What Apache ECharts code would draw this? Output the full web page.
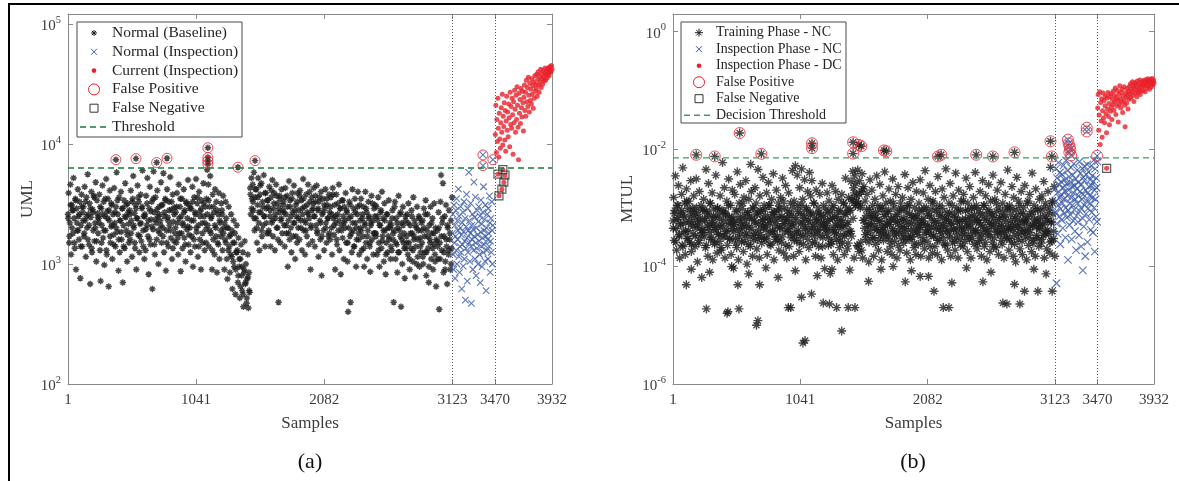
<!DOCTYPE html>
<html>
<head>
<meta charset="utf-8">
<title>UML / MTUL</title>
<script src="https://cdn.jsdelivr.net/npm/echarts@6/dist/echarts.min.js"></script>
<style>
html,body{margin:0;padding:0;background:#fff;}
#chart{width:1179px;height:481px;}
</style>
</head>
<body>
<div id="chart"></div>
<script>
// tick positions on the sample axis (both panels)
var xTicks = [1, 1041, 2082, 3123, 3470, 3932];
var phaseLines = [3123, 3470];
var thrA = 6300;     // UML threshold
var thrB = 0.0071;   // MTUL decision threshold

// sampling of the value lists below
var baseStart = 1, baseStep = 5;
var coreStart = 3, coreStep = 10;
var insStart = 3124, insStep = 3;
var curStart = 3472, curStep = 4;

// (a) UML - baseline, one value every 5 samples
var baseA = [
2600,3900,1500,2200,4600,1200,3100,2800,1800,5200,2400,1350,3500,900,2900,1900,4200,2500,1600,3300,760,2100,3800,1400,2700,
3000,1700,4400,2300,1150,3600,2000,5600,2600,1450,3200,680,2450,4000,1250,2850,1900,3700,1550,2200,4800,1050,3400,2650,1800,
2400,3800,1300,720,2900,2100,4500,1650,3300,980,2500,1900,5100,1200,2750,3500,650,2300,4100,1500,2050,3100,1100,2600,1750,
4300,2200,1400,3000,5800,1850,2600,880,3600,1250,2300,4000,1600,2900,700,2100,3400,1350,4700,2450,1900,1050,3200,2700,1500,
2800,1600,4100,2300,1150,3500,5400,2000,2650,1350,3100,900,2400,4500,1750,3300,1250,2150,3800,1550,2900,6000,1900,2500,1100,
2600,1300,3700,2100,5200,1700,820,2900,4400,1450,2350,3300,620,1950,5900,2700,1200,3600,2200,1600,4100,2500,1000,3000,1800,
2300,4800,1500,3100,2000,5700,1250,2700,3500,880,1900,4200,2450,1400,3300,2100,5300,1650,2850,1100,3800,2250,1550,2950,1800,
2700,1500,3900,2200,1200,4600,1800,3000,870,2500,3500,1350,2100,4200,1650,2800,1050,3300,1950,2400,5000,1450,3100,2000,1250,
2900,1700,4400,950,2300,3600,1400,2600,5100,1850,3200,1150,2100,4000,1600,2750,900,3400,2200,1500,4700,2500,1300,3000,1950,
3500,6100,2100,4600,1400,3000,5400,1800,2500,900,3800,1600,2700,1200,4200,2000,3300,850,1500,2600,3900,1100,2200,1700,3200,
2800,1300,3700,2000,900,1600,3300,2400,1100,750,2000,3000,1400,850,1750,2600,1150,620,1500,2300,950,1800,560,1250,2100,
1300,700,1650,950,520,1100,1450,800,600,1250,440,900,1550,680,1000,470,750,1200,430,850,580,4300,2600,5200,3500,
4600,2800,5800,1900,3600,2400,4200,1500,3100,5200,2200,1300,3800,2700,4700,1700,3300,2100,5500,2500,1400,3900,2900,1800,3400,
3000,1900,4400,2500,1400,3600,2200,5000,1700,2900,3900,1300,2400,4600,2000,3200,1600,480,2700,3700,1500,2300,4200,1800,2800,
3300,2100,1400,4300,2600,1800,3700,950,2300,4900,1600,3000,2000,1250,3500,2700,1700,4500,2200,1100,3100,2500,1500,3900,2000,
2800,1600,4100,2300,3400,1300,2600,5100,1900,3000,1200,2200,3800,1700,2700,4600,1450,2400,3300,900,2000,3600,1550,2900,4300,
2500,1400,3700,2100,4500,1800,2800,1150,3300,2300,1600,4000,800,2600,3500,1900,1300,2900,4200,2200,1500,3100,2400,1700,3800,
2700,1600,3600,2000,1200,4300,2400,1750,3100,900,2200,3800,1450,2600,1900,4600,1300,2900,820,2100,3400,1650,2500,1100,3000,
2300,3900,1500,2700,1050,400,2000,3300,1700,480,2500,1250,4200,1900,2900,1400,3500,2200,950,1600,2600,4000,1800,1200,3100,
2000,3500,1300,2400,1700,3000,950,2200,4000,1500,2700,1100,1900,3300,2500,1400,860,2100,3700,1600,2300,1200,2900,1800,3100,
1800,3000,1200,2300,3600,1500,950,2100,2700,1350,4000,1700,2400,1050,3200,1900,820,1500,2600,1250,2000,3400,1600,2200,1100,
2100,1300,2800,1600,480,1900,3300,1100,2400,1450,850,2000,3700,1250,2600,1700,440,2200,1000,3000,1500,1800,760,2500,1350,
1700,2600,1200,3200,1500,900,2100,1350,2800,1800,1050,3600,1600,2300,780,1400,2000,3000,1150,1900,2500,950,1650,1250,2200,
1500,2300,1000,2900,1700,1250,3400,800,1900,2600,1350,700,2100,1600,3000,1100,1800,2400,900,1450,3200,1200,2000,650,1550,
1900,1100,2700,420,1500,3300,5500,1300,2200,4700,850,1700,2500,1050,3100,1400,680,2000,1200,2800,1600,900,2300,1350,3600
];
// (a) baseline, dense core, one value every 10 samples from 3
var coreA = [
2400,1700,3100,2000,2800,1500,3400,2200,1900,2600,1400,3000,2300,1800,3300,2500,1600,2100,2900,1350,2700,3600,2000,1550,2450,
2200,3000,1500,2600,1900,3500,1300,2400,2800,1700,3200,2100,1450,2700,2000,3400,1600,2300,1850,2900,1400,2500,3100,1750,2150,
2600,1800,3300,2100,1500,2900,2400,3600,1700,2200,3000,1400,2500,1950,3200,2300,1600,2750,2050,3500,1450,2350,2850,1900,2600,
2100,3100,1700,2500,3400,1500,2300,2800,1900,3300,1350,2600,2000,3000,1650,2400,3500,1800,2200,2700,1450,3200,2050,1750,2900,
2300,3300,1600,2700,2000,3600,1400,2500,2900,1800,3200,2200,1500,2600,3400,1900,2400,1300,3000,2100,1700,2800,1450,2300,1900,
2600,1800,2200,1500,2000,1300,1700,1200,1900,1050,1500,900,1250,800,1100,650,950,560,850,700,520,780,600,3800,2900,
3300,2400,4200,2000,3600,2700,4500,1900,3000,2500,3900,2200,3400,1800,2800,4100,2300,3200,2600,3700,2000,2900,3500,2400,3100,
2700,3600,2100,3000,1800,3400,2500,3900,2200,2800,1700,3300,2400,3700,2000,2900,3500,2300,1900,3100,2600,4000,2100,2800,3200,
2500,3300,1900,2900,3600,2200,1700,2700,3100,2000,3500,2400,1800,3000,2600,3800,2100,2500,1600,3200,2300,2900,1900,3400,2200,
2000,2800,1500,2400,3100,1800,2200,1400,2700,2000,3000,1600,2300,1900,2600,1350,2100,2900,1700,2400,1500,2200,3200,1800,2500,
1700,2500,1300,2100,2800,1550,1900,2300,1200,2600,1700,2000,1400,2400,1800,3000,1500,2200,1250,1900,2700,1600,2100,1350,2300,
1500,2200,1100,1800,2500,1300,1700,2100,1000,1600,2400,1400,1900,1150,2000,2600,1250,1700,950,1500,2200,1350,1800,1050,1600,
1400,2000,1100,1700,2400,1250,900,1600,2100,1300,1800,1000
];
// (a) inspection phase, normal condition, every 3 samples from 3124
var insA = [
1800,2600,1200,900,3100,1500,2100,760,1700,2800,1300,3500,1000,2300,1600,1900,4200,1150,2500,850,1400,2000,3000,1250,
1750,620,2200,1450,2700,960,1850,3300,1100,1550,2400,500,1350,2050,3800,1650,720,2900,1250,1900,5800,1500,2300,1050,
1800,3200,1400,470,2100,1600,2600,900,1950,1300,4800,1700,2450,1100,3600,1500,800,2000,1350,2800,1750,1000,2250,3000,
1550,1200,2500,700,1850,3400,1400,2150,950,1650,2700,1250,4400,1900,1450,2350,1050,3100,1700,600,2000,1300,2600,1600,
1100,2900,1800,1400,3700,2200,850,1550,2400,1250,3300,1900,1000,2100
];
// (a) inspection phase, current condition, every 4 samples from 3472
var curA = [
12000,21000,8500,16000,10500,24000,13500,7800,18000,11000,9200,15000,20000,
12500,26000,9800,17000,14000,22000,10800,19000,8700,15500,25000,13000,18500,11500,21500,16500,9500,27000,14500,20500,
13500,24000,17500,8200,22500,15000,28000,19500,12500,25500,16000,30000,21000,13800,7400,26500,18000,23500,14800,29000,20000,16800,27500,22000,12800,
24500,31000,19000,27000,17000,34000,22500,29500,20500,36000,25500,18500,32000,23000,28500,21500,35000,26000,30500,19800,33000,24000,37000,27500,31500,
29000,38000,25000,34500,40000,31000,27000,36500,33000,42000,29500,38500,35000,31500,41000,36000,33500,39000,43000,34000,37500,40500,35500,42500,38000,
41500,37000,44000,39500,43500,40000,45000,42000
];
var fpBaseA = [[390,7400],[553,7550],[721,7000],[805,7600],[1137,9300],[1137,7700],[1137,7200],[1137,6800],[1381,6400],[1520,7260]];
var fpInsA = [[3371,8100],[3371,6600],[3452,7400]];
var fnA = [[3493,5600],[3501,3700],[3525,4200],[3533,6100],[3541,4800],[3550,5500]];

// (b) MTUL - training phase, one value every 5 samples
var baseB = [
6.0e-4,1.5e-3,2.8e-4,9.0e-4,3.5e-3,4.4e-4,1.9e-4,1.1e-3,6.8e-4,2.4e-3,3.3e-4,1.4e-4,8.2e-4,5.1e-4,1.7e-3,2.3e-4,4.8e-3,7.5e-4,3.9e-4,1.2e-3,1.6e-4,5.6e-4,2.1e-3,3.0e-4,9.8e-4,
4.1e-4,1.3e-3,2.6e-4,7e-4,2.9e-3,1.8e-4,5.3e-4,1e-3,3.6e-4,1.6e-3,8.5e-4,2.2e-4,6.2e-4,3.1e-3,4.6e-4,1.2e-4,7.8e-4,2.5e-4,1.9e-3,5.8e-4,3.4e-4,1.1e-3,6.5e-5,4.2e-4,9.2e-4,
1.4e-3,3.2e-4,6.6e-4,2.1e-4,4.5e-3,8.8e-4,4.9e-4,1.5e-4,2.6e-3,7.2e-4,3.8e-4,1.2e-3,2.9e-4,5.5e-4,1.8e-3,1.3e-4,9.5e-4,4.3e-4,2.4e-4,6.9e-4,3.6e-3,5.1e-4,1.7e-4,1e-3,3.5e-4,
7.6e-4,2.7e-4,1.6e-3,4.7e-4,1.9e-4,9.1e-4,5.9e-3,3.3e-4,6.1e-4,2.2e-3,1.4e-4,8e-4,4e-4,1.3e-3,2.3e-4,5.4e-4,3.1e-3,7e-4,3e-4,1.1e-3,1.6e-4,6.3e-4,2e-3,4.4e-4,9.4e-5,
5.2e-4,1.7e-3,3e-4,8.6e-4,2.1e-4,4.1e-3,6.4e-4,1.3e-4,1.2e-3,3.8e-4,2.5e-3,5.7e-4,2.6e-4,9.7e-4,4.5e-4,1.8e-4,1.5e-3,7.3e-4,3.4e-4,2.9e-3,5e-4,1.1e-4,8.3e-4,2.4e-4,1.4e-3,
6.7e-4,3.2e-4,5.5e-3,1.9e-3,4.3e-4,1.5e-4,9.9e-4,2.8e-4,6e-4,2.2e-3,3.7e-4,1.2e-3,2e-4,7.9e-4,4.5e-3,5.3e-4,1.4e-4,1.6e-3,3.5e-4,8.7e-4,2.5e-4,6.2e-4,3.3e-3,4.7e-4,1.1e-3,
2.9e-4,9.3e-4,4.2e-4,1.8e-3,1.6e-4,6.6e-4,2.7e-3,3.6e-4,1.1e-3,5.6e-4,2.3e-4,1.4e-3,7.7e-4,4e-4,3.8e-3,1.3e-4,8.4e-4,2.9e-4,5e-4,2e-3,6.8e-4,3.2e-4,1.2e-3,1.9e-4,9.6e-4,
4.6e-4,1.5e-3,2.6e-4,7.1e-4,3.2e-3,5.4e-4,1.7e-4,1e-3,3.9e-4,2.4e-3,6.3e-4,1.4e-4,8.9e-4,4.4e-4,1.8e-3,2.2e-4,5.8e-4,1.2e-3,3.1e-4,7.5e-4,4.3e-3,4.9e-4,1.5e-4,1.3e-3,3.5e-4,
5.2e-3,6.9e-4,2.8e-4,3.6e-3,1.1e-3,4.1e-4,1.8e-4,2.2e-3,8.1e-4,3.4e-4,4.6e-3,5.7e-4,1.4e-3,2.4e-4,7.4e-4,3e-3,4.7e-4,1.3e-4,1e-3,3.7e-4,1.9e-3,6.1e-4,2.1e-4,4e-3,8.6e-4,
1.6e-3,4.4e-4,2.9e-3,2.5e-4,7.8e-4,1.2e-3,3.3e-4,5.3e-4,1.5e-4,2e-3,6.4e-4,3.9e-4,1e-3,2.2e-4,8.2e-4,1.7e-3,4.8e-4,1.4e-4,6.9e-4,2.6e-3,3.1e-4,1.1e-3,5.5e-4,9.2e-5,4.2e-4,
9.5e-4,3.6e-4,1.8e-3,5.9e-4,2.3e-4,1.3e-3,4.3e-4,7.6e-5,8.4e-4,2.7e-4,2.4e-3,6.6e-4,1.6e-4,1.1e-3,3.8e-4,5.1e-4,1.9e-3,2.9e-4,7.1e-4,1.3e-4,1.4e-3,4.6e-4,2.1e-4,8.8e-4,3.4e-4,
6.2e-4,1.7e-3,2.5e-4,4.9e-4,1.2e-3,1.6e-4,7.9e-4,3.2e-3,3.6e-4,1e-3,2e-4,5.7e-4,1.5e-3,4e-4,8.7e-5,9.1e-4,2.8e-3,3.3e-4,1.3e-3,4.2e-3,2.2e-3,1.4e-4,3.5e-3,1.1e-3,2.6e-3,
1.6e-3,2.3e-4,4.4e-3,1.2e-3,1.8e-4,2.9e-3,1e-3,2.6e-4,1.9e-3,3.8e-3,1.4e-4,6.1e-4,2.3e-3,4.5e-4,1.3e-3,2.9e-4,7.4e-4,1.7e-3,3.7e-4,5.3e-4,1.2e-4,9.4e-4,3e-3,4.1e-4,6.7e-4,
2e-3,3.1e-4,8.3e-4,1.5e-4,5e-4,1.4e-3,2.4e-4,6.9e-4,3.5e-3,4.3e-4,1.1e-3,1.9e-4,5.9e-4,2.5e-3,3.4e-4,9.8e-4,1.3e-4,4.7e-4,1.6e-3,2.8e-4,7.7e-4,4.1e-3,3.9e-4,1.2e-3,5.5e-4,
1.8e-4,8.6e-4,3.3e-4,2.1e-3,5.2e-4,1.3e-3,2.2e-4,6.5e-4,1.6e-4,3.1e-3,4.4e-4,1e-3,2.7e-4,7.2e-4,1.7e-3,3.6e-4,1.4e-4,5.8e-4,2.3e-3,4e-4,9e-4,1.9e-4,1.2e-3,3e-4,6.3e-4,
1.5e-3,4.8e-4,2.5e-4,9.6e-4,3.7e-3,3.4e-4,6.1e-4,1.7e-4,1.1e-3,2.2e-3,4.2e-4,2.9e-4,7.9e-4,1.3e-4,1.4e-3,5.4e-4,3.2e-4,2.7e-3,6.8e-4,2.1e-4,1e-3,4.5e-4,1.6e-4,1.9e-3,3.8e-4,
7e-4,2.4e-4,1.2e-3,4.6e-4,3e-3,1.5e-4,5.6e-4,8.8e-4,3.1e-4,1.8e-3,6.6e-4,2e-4,4.3e-3,3.9e-4,1e-3,2.7e-4,5.1e-4,1.4e-3,1.4e-4,7.4e-4,2.4e-3,3.5e-4,9.3e-4,4.7e-4,1.7e-4,
1.3e-3,3.3e-4,6e-4,2.2e-4,1.9e-3,4.4e-4,9.7e-4,1.6e-4,3.4e-3,5.7e-4,2.8e-4,1.1e-3,4e-4,7.6e-4,1.3e-4,2.1e-3,5e-4,3.1e-4,1.5e-3,6.7e-4,2.3e-4,4.6e-3,4.1e-4,8.5e-4,1.9e-4,
6.2e-4,1.2e-3,3.6e-4,2.6e-3,1.5e-4,5.3e-4,8.2e-4,2.5e-4,1.6e-3,4.3e-4,7.1e-4,1.9e-4,3.9e-3,3.2e-4,1e-3,5.8e-4,1.4e-4,2e-3,4.7e-4,2.9e-4,9.1e-4,1.3e-3,3.7e-4,6.4e-4,2.2e-4,
1.7e-3,4.2e-4,2.7e-4,8.9e-4,3.2e-3,5.5e-4,1.8e-4,1.2e-3,3.4e-4,6.9e-4,2.3e-3,4.5e-4,1.4e-4,9.9e-4,3e-4,5.9e-4,1.5e-3,2.4e-4,7.6e-4,4e-3,4.1e-4,1.1e-3,2e-4,6.3e-4,3.6e-4,
9.4e-4,2.8e-4,1.9e-3,5.1e-4,1.5e-4,7.3e-4,2.9e-3,3.8e-4,1.1e-3,2.2e-4,6.1e-4,1.6e-3,4.4e-4,1.3e-4,8.4e-4,3.3e-4,2.5e-3,5.6e-4,1.8e-4,1.3e-3,4.8e-4,7.9e-4,2.6e-4,3.6e-3,6.5e-4,
3.1e-4,1.4e-3,5.4e-4,2.1e-4,8.7e-4,2e-3,4e-4,1.6e-4,1e-3,6.8e-4,3.5e-4,2.7e-3,4.9e-4,2.4e-4,1.2e-3,7.2e-4,1.4e-4,3.9e-4,1.7e-3,5.8e-4,3e-4,9.5e-4,4.4e-3,4.5e-4,1.9e-4,
1.1e-3,4.2e-4,7.7e-4,2.6e-4,2.3e-3,5.2e-4,1.5e-4,1.5e-3,3.4e-4,6.6e-4,1.2e-4,9.2e-4,3.3e-3,4.6e-4,2.9e-4,1.3e-3,5.9e-4,2e-4,8e-4,1.9e-3,3.7e-4,1.6e-4,6.2e-4,1e-3,4.1e-4,
2.4e-3,3.2e-4,5.5e-4,1.3e-4,1.2e-3,7e-4,2.3e-4,4.3e-4,1.7e-3,3.8e-4,8.6e-4,1.8e-4,3.9e-3,5e-4,2.8e-4,1.1e-3,6.4e-4,1.5e-4,2.1e-3,4.7e-4,3.1e-4,9.7e-4,5.7e-4,2.2e-4,1.4e-3,
4.4e-4,8.9e-4,2.5e-4,1.6e-3,5.3e-4,3.4e-4,2.8e-3,1.4e-4,7.3e-4,1.2e-3,4e-4,2e-4,6e-4,1.9e-3,3.5e-4,1e-3,1.7e-4,4.9e-3,5.6e-4,2.7e-4,1.3e-3,7.8e-4,3e-4,2.3e-3,1.5e-4
];
// (b) training phase, dense core, one value every 10 samples from 3
var coreB = [
4.5e-4,8e-4,2.6e-4,6.2e-4,1.1e-3,3.5e-4,5.4e-4,9e-4,2.2e-4,7e-4,4e-4,1.3e-3,3e-4,5.8e-4,8.6e-4,2.4e-4,4.8e-4,7.4e-4,3.3e-4,1e-3,5.1e-4,2.8e-4,6.6e-4,4.2e-4,9.5e-4,
3.8e-4,6e-4,2.3e-4,8.2e-4,4.6e-4,1.2e-3,3.1e-4,5.6e-4,7.2e-4,2.6e-4,4.3e-4,9.8e-4,3.6e-4,6.4e-4,2.1e-4,5e-4,8.8e-4,3.3e-4,7.6e-4,4.1e-4,1.1e-3,2.9e-4,5.3e-4,6.9e-4,3.9e-4,
5.7e-4,2.5e-4,9.2e-4,4.4e-4,3.2e-4,7.1e-4,5e-4,1.2e-3,2.7e-4,6.1e-4,3.7e-4,8.4e-4,4.7e-4,2.2e-4,6.7e-4,1e-3,3.4e-4,5.5e-4,7.8e-4,2.9e-4,4.2e-4,9.1e-4,3.1e-4,6.3e-4,4.9e-4,
7.3e-4,3e-4,5.2e-4,1.1e-3,2.4e-4,6.5e-4,4.1e-4,8.5e-4,3.5e-4,5.9e-4,2.7e-4,9.6e-4,4.5e-4,7e-4,3.2e-4,1.3e-3,5.4e-4,2.3e-4,6.8e-4,4e-4,8.1e-4,3.6e-4,5.1e-4,1e-3,2.8e-4,
6e-4,3.9e-4,8.7e-4,2.5e-4,5.3e-4,1.1e-3,3.3e-4,6.6e-4,4.4e-4,9.3e-4,2.9e-4,5.7e-4,7.5e-4,3.7e-4,4.8e-4,1.2e-3,2.6e-4,6.2e-4,4.2e-4,8e-4,3.4e-4,5.6e-4,2.2e-4,7.2e-4,4.6e-4,
5e-4,8.3e-4,3.1e-4,6.4e-4,2.4e-4,1e-3,4.3e-4,7e-4,3.6e-4,5.5e-4,9e-4,2.7e-4,6.1e-4,4.7e-4,1.2e-3,3.3e-4,7.7e-4,5.2e-4,2.5e-4,8.9e-4,4e-4,1.4e-3,6.6e-4,1.8e-3,1.1e-3,
1.3e-3,2.2e-4,1.7e-3,1.1e-3,1.9e-4,2.1e-3,6.1e-4,3.5e-4,9.4e-4,4.8e-4,2.6e-4,7.3e-4,5.4e-4,1.1e-3,3.1e-4,6.7e-4,4.2e-4,8.6e-4,2.8e-4,5.9e-4,3.8e-4,1e-3,4.6e-4,7.1e-4,3.3e-4,
5.2e-4,8.8e-4,2.7e-4,6.3e-4,4.1e-4,1.2e-3,3.4e-4,5.7e-4,7.7e-4,2.3e-4,4.9e-4,9.5e-4,3.7e-4,6.5e-4,4.4e-4,2.9e-4,8.2e-4,5.3e-4,1.1e-3,3.2e-4,6.9e-4,4e-4,2.5e-4,7.4e-4,5.6e-4,
3.5e-4,9e-4,4.7e-4,6e-4,2.6e-4,1e-3,5.1e-4,3.8e-4,7.9e-4,4.3e-4,2.2e-4,6.6e-4,1.2e-3,3.3e-4,5.5e-4,8.4e-4,2.8e-4,4.5e-4,7.2e-4,3.6e-4,9.8e-4,5e-4,2.4e-4,6.2e-4,4.1e-4,
7.6e-4,3.1e-4,5.4e-4,1.1e-3,4.4e-4,2.7e-4,6.8e-4,3.9e-4,8.7e-4,5.8e-4,2.3e-4,4.6e-4,1.3e-3,3.4e-4,6.4e-4,4.9e-4,9.2e-4,2.9e-4,5.2e-4,7.3e-4,3.7e-4,1e-3,4.2e-4,6.1e-4,2.5e-4,
5.6e-4,8.1e-4,3.2e-4,4.7e-4,1.1e-3,2.6e-4,6.7e-4,4e-4,9.4e-4,3.5e-4,5.3e-4,7.5e-4,2.2e-4,4.4e-4,1.2e-3,3.8e-4,6.3e-4,5e-4,2.8e-4,8.5e-4,4.1e-4,6.9e-4,3.3e-4,1e-3,4.8e-4,
3e-4,6e-4,9.7e-4,4.3e-4,2.4e-4,7.1e-4,5.2e-4,3.6e-4,1.1e-3,4.6e-4,2.7e-4,8e-4,5.7e-4,3.9e-4,6.5e-4,1.3e-3,3.1e-4,4.9e-4,7.7e-4,2.5e-4,5.5e-4,9e-4,3.4e-4,6.2e-4,4.5e-4,
7e-4,2.9e-4,5.1e-4,1e-3,3.7e-4,6.6e-4,4.2e-4,8.3e-4,2.6e-4,5.8e-4,1.2e-3,4e-4
];
// (b) low training-phase outliers [sample, MTUL]
var lowB = [[110,4.9e-5],[150,9e-5],[274,1.9e-5],[300,8e-5],[443,1.6e-5],[450,1.7e-5],[480,1e-4],[531,4.9e-5],[540,1.9e-5],[620,7.5e-5],
[683,1e-5],[695,1.2e-5],[709,4.9e-5],[760,9.5e-5],[860,6.5e-5],[943,2e-5],[963,2e-5],[1000,8.5e-5],[1051,3e-5],[1063,5e-6],
[1080,5.5e-6],[1133,3.4e-5],[1180,7e-5],[1229,2.4e-5],[1280,2.3e-5],[1300,9e-5],[1338,2e-5],[1380,8e-6],[1433,2e-5],[1488,2e-5],
[1599,5.6e-5],[1700,9e-5],[1800,1e-4],[1899,5.5e-5],[1950,8.5e-5],[2021,6.8e-5],[2089,6.8e-5],[2134,3.8e-5],[2210,2e-5],[2256,2e-5],
[2280,5.3e-5],[2400,9.5e-5],[2534,5.5e-5],[2600,8e-5],[2697,2.4e-5],[2730,2.3e-5],[2792,5e-5],[2836,2.3e-5],[2874,3.8e-5],[2950,9e-5],
[2983,3.8e-5],[3050,7.5e-5],[3100,3.8e-5]];
// (b) inspection phase NC, every 3 samples from 3124
var insB = [
2.1e-3,8.5e-4,4.6e-3,1.3e-3,5.4e-4,3.2e-3,1.8e-3,3.6e-4,1.1e-3,5.9e-3,2.5e-3,7.1e-4,1.5e-3,4e-3,2.4e-4,9.6e-4,2.8e-3,1.7e-3,6.2e-4,3.7e-3,1.2e-3,4.5e-4,2.2e-3,5.3e-3,
1.4e-3,8.1e-4,3e-3,1.9e-3,3.1e-4,1e-3,6.4e-3,2.6e-3,6.8e-4,1.6e-3,4.3e-3,1.3e-4,9e-4,2e-3,3.4e-3,5.1e-4,1.2e-3,2.7e-3,7.6e-4,4.9e-3,1.5e-3,2.9e-4,2.3e-3,1.1e-3,
3.6e-3,6e-4,1.8e-3,5.6e-3,9.3e-4,2.4e-3,4e-4,1.4e-3,3.1e-3,1.9e-4,7.3e-4,2.1e-3,4.4e-3,1.2e-3,5.7e-4,2.7e-3,1.6e-3,3.4e-4,6.1e-3,8.8e-4,1.9e-3,3.9e-3,1e-3,2.2e-4,
2.5e-3,1.4e-3,4.7e-3,6.6e-4,1.7e-3,3.3e-3,4.8e-4,2.9e-3,1.1e-3,5.1e-3,1.5e-4,2e-3,7.9e-4,3.7e-3,1.3e-3,5.5e-3,2.6e-4,1.8e-3,9.8e-4,4.1e-3,2.3e-3,6.3e-4,1.6e-3,3e-3,
1.2e-3,4.2e-4,5.2e-3,2.4e-3,8.4e-4,3.5e-3,1.5e-3,3.8e-4,2.8e-3,6.5e-3,1e-3,2e-3,1.8e-4,4.6e-3,1.4e-3,7e-4,3.2e-3,2.2e-3,5.8e-4,6.2e-3
];
var lowInsB = [[3135,5.2e-5],[3350,8.6e-5]];
// (b) inspection phase DC, every 4 samples from 3472
var curB = [
0.05,0.085,0.021,0.038,0.095,0.012,0.062,0.03,0.072,0.016,0.045,0.09,0.034,
0.067,0.028,0.055,0.08,0.04,0.019,0.074,0.048,0.092,0.036,0.06,0.026,0.078,0.044,0.088,0.052,0.032,0.07,0.058,0.098,
0.046,0.082,0.064,0.11,0.039,0.075,0.054,0.1,0.068,0.029,0.086,0.058,0.12,0.072,0.05,0.093,0.063,0.105,0.042,0.08,0.067,0.115,0.056,0.024,0.09,0.076,0.061,0.108,0.083,0.048,0.098,0.071,0.118,
0.088,0.13,0.074,0.105,0.095,0.14,0.082,0.12,0.065,0.11,0.135,0.09,0.125,0.1,0.078,0.145,0.112,0.092,0.13,0.105,0.15,0.085,0.122,0.098,0.14,0.115,0.128,
0.1,0.148,0.118,0.135,0.095,0.152,0.125,0.14,0.11,0.158,0.132,0.12,0.145,0.105,0.155,0.13,0.142,0.115,0.16,0.138,0.125,0.15,0.135
];
var fpBaseB = [[191,8e-3],[342,7.5e-3],[546,0.0188],[723,8.3e-3],[1137,0.0126],[1137,0.0104],[1473,0.0131],[1473,8.4e-3],[1520,0.0118],[1540,0.0112],
[1725,9.5e-3],[1744,9.2e-3],[2166,7.5e-3],[2193,8e-3],[2479,8e-3],[2615,7.5e-3],[2792,8.8e-3],[3086,0.0136],[3097,7.5e-3]];
var fpInsB = [[3228,0.0145],[3235,0.0125],[3242,0.011],[3248,0.0098],[3240,0.0088],[3255,0.0078],[3382,0.0232],[3382,0.02],[3467,0.0077]];
var fnB = [[3545,4.7e-3]];

var legendA = ['Normal (Baseline)', 'Normal (Inspection)', 'Current (Inspection)', 'False Positive', 'False Negative', 'Threshold'];
var legendB = ['Training Phase - NC', 'Inspection Phase - NC', 'Inspection Phase - DC', 'False Positive', 'False Negative', 'Decision Threshold'];

// ---- styling ----
var serif = '"Liberation Serif", "Times New Roman", serif';
var axisGray = '#8a8a8a', labelGray = '#3c3c3c';
var red = '#e8202a', blue = '#3a5aa8', ink = '#1c1c1c';
var greenA = '#17783a', greenB = '#3f9a62';
var STAR = 'path://M5,0L5,10M0,5L10,5M1.6,1.6L8.4,8.4M1.6,8.4L8.4,1.6';
var CROSS = 'path://M0,0L10,10M0,10L10,0';

function seq(vals, start, step) {
    return vals.map(function (v, i) { return [start + i * step, v]; });
}

function powLabel(v) {
    var e = Math.log10(v), r = Math.round(e);
    if (Math.abs(e - r) > 0.01) return '';
    return '{b|10}{e|' + r + '}';
}

function xAxisCfg(grid, pos) {
    var main = pos === 'bottom';
    return {
        gridIndex: grid, type: 'value', position: pos, min: 1, max: 3932,
        axisLine: {show: true, onZero: false, lineStyle: {color: axisGray, width: 1}},
        axisTick: {show: true, inside: true, length: 5, customValues: xTicks, lineStyle: {color: axisGray}},
        axisLabel: {show: main, customValues: xTicks, margin: 9, fontSize: 15, fontFamily: serif, color: labelGray,
                    formatter: function (v) { return String(Math.round(v)); }},
        splitLine: {show: false},
        name: main ? 'Samples' : '', nameLocation: 'middle', nameGap: 31,
        nameTextStyle: {fontSize: 17, fontFamily: serif, color: labelGray}
    };
}

function yAxisCfg(grid, pos, min, max, interval, name, gap) {
    var main = pos === 'left';
    return {
        gridIndex: grid, type: 'log', logBase: 10, position: pos, min: min, max: max, interval: interval,
        axisLine: {show: true, onZero: false, lineStyle: {color: axisGray, width: 1}},
        axisTick: {show: true, inside: true, length: 5, lineStyle: {color: axisGray}},
        minorTick: {show: false},
        axisLabel: {
            show: main, margin: 7, formatter: powLabel,
            rich: {
                b: {fontSize: 15, fontFamily: serif, color: labelGray, lineHeight: 19, verticalAlign: 'bottom'},
                e: {fontSize: 10.5, fontFamily: serif, color: labelGray, lineHeight: 11, verticalAlign: 'top'}
            }
        },
        splitLine: {show: false},
        name: main ? name : '', nameLocation: 'middle', nameGap: gap,
        nameTextStyle: {fontSize: 17, fontFamily: serif, color: labelGray}
    };
}

function panelSeries(xi, yi, d) {
    return [
        {type: 'scatter', xAxisIndex: xi, yAxisIndex: yi, silent: true, data: d.base,
         symbol: STAR, symbolSize: d.starSize,
         itemStyle: {color: 'transparent', borderColor: ink, borderWidth: d.starWidth}},
        {type: 'scatter', xAxisIndex: xi, yAxisIndex: yi, silent: true, data: d.ins,
         symbol: CROSS, symbolSize: d.crossSize,
         itemStyle: {color: 'transparent', borderColor: blue, borderWidth: 1.15}},
        {type: 'scatter', xAxisIndex: xi, yAxisIndex: yi, silent: true, data: d.cur,
         symbol: 'circle', symbolSize: d.dotSize, itemStyle: {color: red}},
        {type: 'scatter', xAxisIndex: xi, yAxisIndex: yi, silent: true, data: d.fp,
         symbol: 'circle', symbolSize: d.ringSize,
         itemStyle: {color: 'transparent', borderColor: red, borderWidth: 1}},
        {type: 'scatter', xAxisIndex: xi, yAxisIndex: yi, silent: true, data: d.fn,
         symbol: 'rect', symbolSize: 8,
         itemStyle: {color: 'transparent', borderColor: '#333', borderWidth: 1.2}},
        {type: 'line', xAxisIndex: xi, yAxisIndex: yi, silent: true, z: 5,
         data: [[1, d.thr], [3932, d.thr]], symbol: 'none',
         lineStyle: {color: d.green, width: 1.4, type: [6, 4]},
         markLine: {silent: true, symbol: ['none', 'none'], label: {show: false},
             lineStyle: {type: [1, 2], color: '#555', width: 1},
             data: phaseLines.map(function (v) { return {xAxis: v}; })}}
    ];
}

// line segments for the hand-drawn legend icons
function seg(x1, y1, x2, y2, color) {
    return {type: 'line', z: 101, shape: {x1: x1, y1: y1, x2: x2, y2: y2}, style: {stroke: color, lineWidth: 1}};
}

function legendEls(box, y0, dy, labels, iconX, textX, dash, font, green, r) {
    var els = [{type: 'rect', z: 100, shape: {x: box[0], y: box[1], width: box[2], height: box[3]},
                style: {fill: '#fff', stroke: '#4a4a4a', lineWidth: 1}}];
    labels.forEach(function (label, i) {
        var cy = y0 + i * dy, d = r * 0.7;
        if (i === 0) {
            els.push(seg(iconX, cy - r, iconX, cy + r, ink), seg(iconX - r, cy, iconX + r, cy, ink),
                     seg(iconX - d, cy - d, iconX + d, cy + d, ink), seg(iconX - d, cy + d, iconX + d, cy - d, ink));
        } else if (i === 1) {
            els.push(seg(iconX - 3, cy - 3, iconX + 3, cy + 3, blue), seg(iconX - 3, cy + 3, iconX + 3, cy - 3, blue));
        } else if (i === 2) {
            els.push({type: 'circle', z: 101, shape: {cx: iconX, cy: cy, r: 2.3}, style: {fill: red}});
        } else if (i === 3) {
            els.push({type: 'circle', z: 101, shape: {cx: iconX, cy: cy, r: 5.5}, style: {fill: 'none', stroke: red, lineWidth: 1}});
        } else if (i === 4) {
            els.push({type: 'rect', z: 101, shape: {x: iconX - 4, y: cy - 4, width: 8, height: 8}, style: {fill: 'none', stroke: '#333', lineWidth: 1}});
        } else {
            els.push({type: 'line', z: 101, shape: {x1: dash[0], y1: cy, x2: dash[1], y2: cy},
                      style: {stroke: green, lineWidth: 1.4, lineDash: [6, 4]}});
        }
        els.push({type: 'text', z: 101, style: {text: label, x: textX, y: cy, font: font, fill: '#262626',
                  align: 'left', verticalAlign: 'middle'}});
    });
    return els;
}

var chart = echarts.init(document.getElementById('chart'), null, {renderer: 'canvas'});

var panelA = {
    base: seq(baseA, baseStart, baseStep).concat(seq(coreA, coreStart, coreStep), fpBaseA),
    ins: seq(insA, insStart, insStep).concat(fpInsA),
    cur: seq(curA, curStart, curStep).concat(fnA),
    fp: fpBaseA.concat(fpInsA), fn: fnA, thr: thrA, green: greenA,
    starSize: 6.5, starWidth: 1.45, crossSize: 6.5, dotSize: 5, ringSize: 10
};
var panelB = {
    base: seq(baseB, baseStart, baseStep).concat(seq(coreB, coreStart, coreStep), lowB, fpBaseB),
    ins: seq(insB, insStart, insStep).concat(lowInsB, fpInsB),
    cur: seq(curB, curStart, curStep).concat(fnB),
    fp: fpBaseB.concat(fpInsB), fn: fnB, thr: thrB, green: greenB,
    starSize: 9, starWidth: 1.35, crossSize: 7.5, dotSize: 5, ringSize: 11
};

var graphics = [
    {type: 'rect', shape: {x: 8, y: 3, width: 1171, height: 2}, style: {fill: '#000'}},
    {type: 'rect', shape: {x: 8, y: 3, width: 2, height: 478}, style: {fill: '#000'}},
    {type: 'text', style: {text: '(a)', x: 310, y: 462, font: '22px ' + serif, fill: '#111', align: 'center', verticalAlign: 'middle'}},
    {type: 'text', style: {text: '(b)', x: 913, y: 462, font: '22px ' + serif, fill: '#111', align: 'center', verticalAlign: 'middle'}}
].concat(
    legendEls([77, 22, 165, 115], 33, 18.8, legendA, 94, 112, [80, 109], '15.5px ' + serif, greenA, 3),
    legendEls([681, 22, 165, 101], 32.7, 16.5, legendB, 699, 716, [684, 714], '14px ' + serif, greenB, 4)
);

var option = {
    animation: false,
    backgroundColor: '#fff',
    grid: [
        {left: 68, top: 14, width: 484, height: 370},
        {left: 673, top: 14, width: 481, height: 370}
    ],
    xAxis: [xAxisCfg(0, 'bottom'), xAxisCfg(0, 'top'), xAxisCfg(1, 'bottom'), xAxisCfg(1, 'top')],
    yAxis: [
        yAxisCfg(0, 'left', 100, 121000, 1, 'UML', 32),
        yAxisCfg(0, 'right', 100, 121000, 1, '', 0),
        yAxisCfg(1, 'left', 1e-6, 2, 2, 'MTUL', 37),
        yAxisCfg(1, 'right', 1e-6, 2, 2, '', 0)
    ],
    series: panelSeries(0, 0, panelA).concat(panelSeries(2, 2, panelB)),
    graphic: graphics
};
chart.setOption(option);
</script>
</body>
</html>
